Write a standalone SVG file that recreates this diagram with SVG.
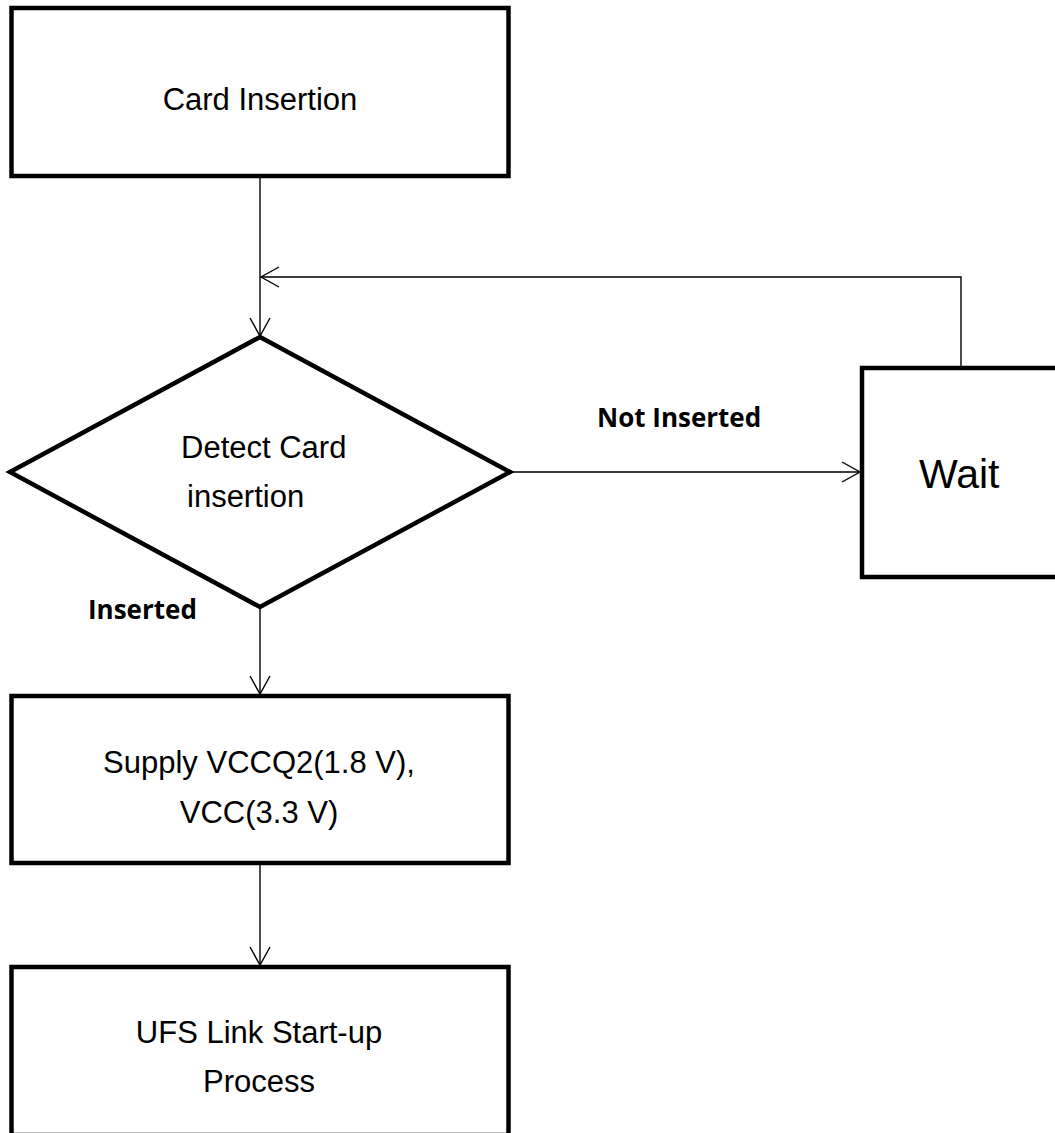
<svg xmlns="http://www.w3.org/2000/svg" width="1055" height="1133" viewBox="0 0 1055 1133">
<style>
.box{fill:#fff;stroke:#000;stroke-width:4.5;stroke-linejoin:miter}
.t{font-family:"Liberation Sans",Arial,sans-serif;font-size:31px;fill:#000}
.tc{text-anchor:middle}
.lbl{font-family:"Open Sans","Liberation Sans",sans-serif;font-weight:700;font-size:26px;fill:#000}
.c{fill:none;stroke:#000;stroke-width:1.4}
</style>
<defs>
<marker id="arr" markerUnits="userSpaceOnUse" markerWidth="40" markerHeight="40" viewBox="-20 -20 40 40" refX="0" refY="0" orient="auto" overflow="visible">
<path d="M-18,-10 L0,0 L-18,10" fill="none" stroke="#000" stroke-width="1.4"/>
</marker>
</defs>
<rect width="1055" height="1133" fill="#fff"/>
<g id="connectors">
<line class="c" x1="260" y1="178" x2="260" y2="336" marker-end="url(#arr)"/>
<polyline class="c" points="961,367 961,277 261,277" marker-end="url(#arr)"/>
<line class="c" x1="512" y1="472" x2="860" y2="472" marker-end="url(#arr)"/>
<line class="c" x1="260" y1="609" x2="260" y2="694" marker-end="url(#arr)"/>
<line class="c" x1="260" y1="865" x2="260" y2="965" marker-end="url(#arr)"/>
</g>
<g id="card-insertion">
<rect class="box" x="11.5" y="8" width="497" height="168"/>
<text class="t tc" x="260" y="110">Card Insertion</text>
</g>
<g id="detect">
<polygon class="box" points="260,337 510,472 260,607 10,472"/>
<text class="t" x="181" y="458">Detect Card</text>
<text class="t" x="187" y="507">insertion</text>
</g>
<g id="wait">
<rect class="box" x="862" y="368" width="200" height="209"/>
<text class="t" x="919" y="488" style="font-size:41px">Wait</text>
</g>
<g id="supply">
<rect class="box" x="11.5" y="696" width="497" height="167"/>
<text class="t tc" x="259" y="773">Supply VCCQ2(1.8 V),</text>
<text class="t tc" x="259" y="823">VCC(3.3 V)</text>
</g>
<g id="ufs">
<rect class="box" x="11.5" y="967" width="497" height="168"/>
<text class="t tc" x="259" y="1043">UFS Link Start-up</text>
<text class="t tc" x="259" y="1092">Process</text>
</g>
<g id="labels">
<text class="lbl" x="597" y="427">Not Inserted</text>
<text class="lbl" x="88" y="619">Inserted</text>
</g>
</svg>
